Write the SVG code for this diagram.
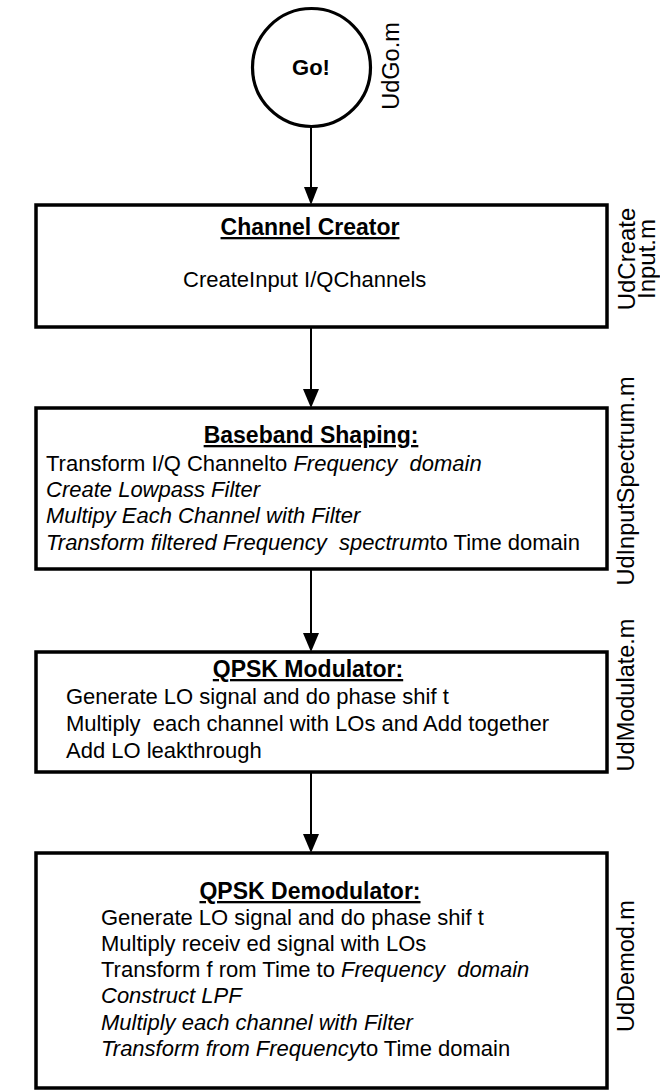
<svg xmlns="http://www.w3.org/2000/svg" width="660" height="1091" viewBox="0 0 660 1091">
<style>
.box{fill:#fff;stroke:#000;stroke-width:3.5}
.title{font-family:"Liberation Sans",Arial,sans-serif;font-size:23px;font-weight:bold;text-decoration:underline;text-anchor:middle}
.body{font-family:"Liberation Sans",Arial,sans-serif;font-size:22px}
.it{font-style:italic}
.lbl{font-family:"Liberation Sans",Arial,sans-serif;font-size:23.5px;text-anchor:middle}
.conn{stroke:#000;stroke-width:2;fill:none}
.head{fill:#000}
</style>
<rect width="660" height="1091" fill="#fff"/>
<g id="connectors">
<line class="conn" x1="311" y1="127" x2="311" y2="188"/>
<polygon class="head" points="304,187 318,187 311,205"/>
<line class="conn" x1="311" y1="327" x2="311" y2="390"/>
<polygon class="head" points="303,389 319,389 311,408"/>
<line class="conn" x1="311" y1="569" x2="311" y2="634"/>
<polygon class="head" points="303,633 319,633 311,652"/>
<line class="conn" x1="311" y1="772" x2="311" y2="835"/>
<polygon class="head" points="303,834 319,834 311,853"/>
</g>
<g id="go">
<circle cx="311.5" cy="67.5" r="59" fill="#fff" stroke="#000" stroke-width="3.2"/>
<text x="311" y="75" class="body" style="font-weight:bold" text-anchor="middle">Go!</text>
<text class="lbl" transform="translate(399,66) rotate(-90)">UdGo.m</text>
</g>
<g id="channel-creator">
<rect class="box" x="36" y="205" width="571" height="122"/>
<text class="title" x="310" y="235">Channel Creator</text>
<text class="body" x="183" y="287">CreateInput I/QChannels</text>
<text class="lbl" style="font-size:24px" transform="translate(635,259) rotate(-90)">UdCreate</text>
<text class="lbl" style="font-size:24px" transform="translate(655,259) rotate(-90)">Input.m</text>
</g>
<g id="baseband-shaping">
<rect class="box" x="36" y="408" width="571" height="161"/>
<text class="title" x="311" y="443">Baseband Shaping:</text>
<text class="body" x="46" y="471" xml:space="preserve">Transform I/Q Channelto <tspan class="it">Frequency  domain</tspan></text>
<text class="body it" x="46" y="497">Create Lowpass Filter</text>
<text class="body it" x="46" y="523">Multipy Each Channel with Filter</text>
<text class="body" x="46" y="550" xml:space="preserve"><tspan class="it">Transform filtered Frequency  spectrum</tspan>to Time domain</text>
<text class="lbl" transform="translate(634,481) rotate(-90)">UdInputSpectrum.m</text>
</g>
<g id="qpsk-modulator">
<rect class="box" x="36" y="652" width="571" height="120"/>
<text class="title" x="308" y="677">QPSK Modulator:</text>
<text class="body" x="66" y="704">Generate LO signal and do phase shif t</text>
<text class="body" x="66" y="731" xml:space="preserve">Multiply  each channel with LOs and Add together</text>
<text class="body" x="66" y="758">Add LO leakthrough</text>
<text class="lbl" transform="translate(634,695) rotate(-90)">UdModulate.m</text>
</g>
<g id="qpsk-demodulator">
<rect class="box" x="36" y="853" width="571" height="235"/>
<text class="title" x="310" y="899">QPSK Demodulator:</text>
<text class="body" x="101" y="925">Generate LO signal and do phase shif t</text>
<text class="body" x="101" y="951">Multiply receiv ed signal with LOs</text>
<text class="body" x="101" y="977" xml:space="preserve">Transform f rom Time to <tspan class="it">Frequency  domain</tspan></text>
<text class="body it" x="101" y="1003">Construct LPF</text>
<text class="body it" x="101" y="1030">Multiply each channel with Filter</text>
<text class="body" x="101" y="1056" xml:space="preserve"><tspan class="it">Transform from Frequency</tspan>to Time domain</text>
<text class="lbl" transform="translate(634,966) rotate(-90)">UdDemod.m</text>
</g>
</svg>
